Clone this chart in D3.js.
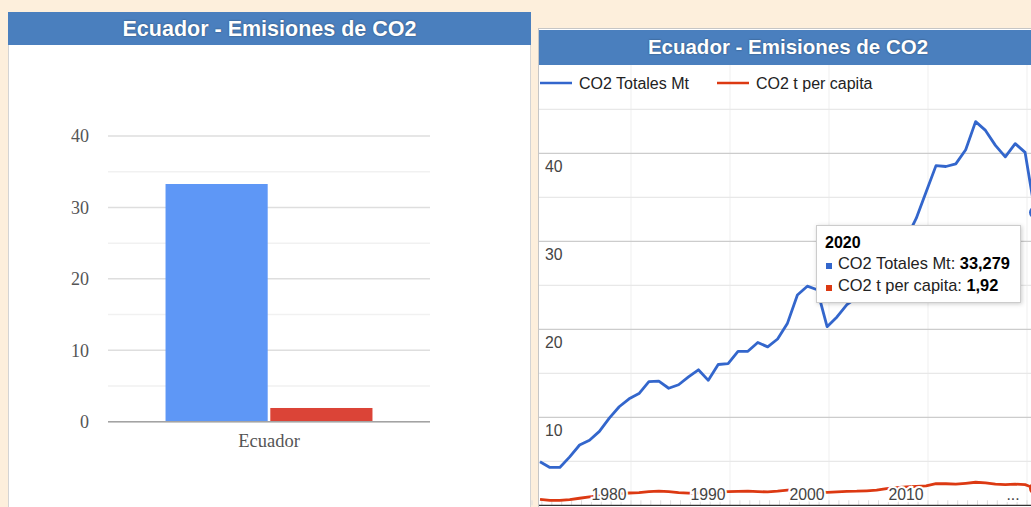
<!DOCTYPE html>
<html>
<head>
<meta charset="utf-8">
<script src="https://cdn.jsdelivr.net/npm/d3@7"></script>
<style>
body { margin: 0; background: #fdefdc; }
svg { display: block; font-family: "Liberation Sans", Arial, sans-serif; }
</style>
</head>
<body>
<svg id="chart" width="1031" height="507"></svg>
<script>
// data
var title = "Ecuador - Emisiones de CO2";
var seriesNames = ["CO2 Totales Mt", "CO2 t per capita"];
var seriesColors = ["#3366cc", "#dc3912"];
var barColors = ["#5e97f6", "#db4437"];
var country = "Ecuador";
var latest = [33.279, 1.92];
var barTicks = [0, 5, 10, 15, 20, 25, 30, 35, 40];

var years = [1970, 1971, 1972, 1973, 1974, 1975, 1976, 1977, 1978, 1979,
             1980, 1981, 1982, 1983, 1984, 1985, 1986, 1987, 1988, 1989,
             1990, 1991, 1992, 1993, 1994, 1995, 1996, 1997, 1998, 1999,
             2000, 2001, 2002, 2003, 2004, 2005, 2006, 2007, 2008, 2009,
             2010, 2011, 2012, 2013, 2014, 2015, 2016, 2017, 2018, 2019, 2020];
var totalMt = [4.95, 4.3, 4.3, 5.5, 6.85, 7.4, 8.4, 9.9, 11.2, 12.1,
               12.7, 14.05, 14.1, 13.3, 13.7, 14.6, 15.4, 14.2, 16.0, 16.1,
               17.5, 17.5, 18.5, 18.0, 18.9, 20.7, 23.9, 24.9, 24.5, 20.3,
               21.4, 22.8, 23.6, 24.6, 25.8, 27.4, 28.9, 30.3, 32.6, 35.6,
               38.6, 38.5, 38.8, 40.4, 43.6, 42.6, 40.9, 39.6, 41.1, 40.1, 33.279];
var perCapita = [0.68, 0.55, 0.55, 0.65, 0.8, 0.95, 1.1, 1.2, 1.3, 1.4,
                 1.45, 1.55, 1.62, 1.55, 1.45, 1.38, 1.42, 1.45, 1.5, 1.55,
                 1.58, 1.6, 1.55, 1.52, 1.6, 1.72, 1.72, 1.65, 1.55, 1.48,
                 1.52, 1.58, 1.6, 1.65, 1.72, 1.9, 2.0, 2.1, 2.15, 2.2,
                 2.45, 2.45, 2.4, 2.5, 2.62, 2.55, 2.4, 2.35, 2.4, 2.35, 1.92];
var lineTicks = [5, 10, 15, 20, 25, 30, 35, 40, 45];
var lineLabels = [10, 20, 30, 40];
var decadeLabels = [1980, 1990, 2000, 2010, 2020];
var tooltipYear = 2020;

var svg = d3.select("#chart");
var esLocale = d3.formatLocale({decimal: ",", thousands: ".", grouping: [3], currency: ["$", ""]});

// ---------- left panel: column chart ----------
svg.append("rect")
  .attr("x", 8.5).attr("y", 12.5)
  .attr("width", 522).attr("height", 500)
  .attr("fill", "#fff").attr("stroke", "#d4d4d4");
svg.append("rect")
  .attr("x", 8).attr("y", 12)
  .attr("width", 523).attr("height", 33)
  .attr("fill", "#4a7fbe");
svg.append("text")
  .attr("x", 269.5).attr("y", 36)
  .attr("text-anchor", "middle")
  .attr("font-size", "21.5px").attr("font-weight", "bold")
  .attr("fill", "#fff")
  .style("text-shadow", "0 0 2px rgba(0,0,0,0.45)")
  .text(title);

var yBar = d3.scaleLinear().domain([0, 40]).range([421.7, 136]);
var x0 = d3.scaleBand().domain([country]).range([108, 430]).paddingInner(0).paddingOuter(0.278);
var x1 = d3.scaleBand().domain(seriesNames).range([0, x0.bandwidth()]).paddingInner(0.025);

var left = svg.append("g");
left.selectAll(".grid")
  .data(barTicks)
  .enter().append("line")
  .attr("x1", 108).attr("x2", 430)
  .attr("y1", function(d) { return yBar(d); })
  .attr("y2", function(d) { return yBar(d); })
  .attr("stroke", function(d) { return d % 10 === 0 ? "#dedede" : "#f1f1f1"; })
  .attr("stroke-width", 1.5);

left.selectAll(".bar")
  .data(latest)
  .enter().append("rect")
  .attr("x", function(d, i) { return x0(country) + x1(seriesNames[i]); })
  .attr("width", x1.bandwidth())
  .attr("y", function(d) { return yBar(d); })
  .attr("height", function(d) { return yBar(0) - yBar(d); })
  .attr("fill", function(d, i) { return barColors[i]; });

left.append("line")
  .attr("x1", 108).attr("x2", 430)
  .attr("y1", yBar(0)).attr("y2", yBar(0))
  .attr("stroke", "#a3a3a3").attr("stroke-width", 1.6);

left.selectAll(".tick")
  .data(barTicks.filter(function(d) { return d % 10 === 0; }))
  .enter().append("text")
  .attr("x", 89)
  .attr("y", function(d) { return yBar(d); })
  .attr("dy", "0.35em")
  .attr("text-anchor", "end")
  .attr("font-family", "'Liberation Serif', 'Times New Roman', serif")
  .attr("font-size", "18px")
  .attr("fill", "#555")
  .text(function(d) { return d; });

left.append("text")
  .attr("x", x0(country) + x0.bandwidth() / 2)
  .attr("y", 447)
  .attr("text-anchor", "middle")
  .attr("font-family", "'Liberation Serif', 'Times New Roman', serif")
  .attr("font-size", "18.5px")
  .attr("fill", "#555")
  .text(country);

// ---------- right panel: line chart ----------
svg.append("rect")
  .attr("x", 538.5).attr("y", 28.5)
  .attr("width", 520).attr("height", 500)
  .attr("fill", "#fff").attr("stroke", "#c6c6c6");
svg.append("rect")
  .attr("x", 539).attr("y", 30)
  .attr("width", 520).attr("height", 35)
  .attr("fill", "#4a7fbe");
svg.append("text")
  .attr("x", 788).attr("y", 53.5)
  .attr("text-anchor", "middle")
  .attr("font-size", "20.5px").attr("font-weight", "bold")
  .attr("fill", "#fff")
  .style("text-shadow", "0 0 2px rgba(0,0,0,0.45)")
  .text(title);

var x = d3.scaleLinear().domain([1970, 2020]).range([540, 1035]);
var y = d3.scaleLinear().domain([0, 50]).range([505.3, 65.3]);
// the original draws its decade gridlines and labels a bit left of the year point
var gridShift = -8, labelShift = -30;

var right = svg.append("g");
svg.append("defs").append("clipPath").attr("id", "plot")
  .append("rect").attr("x", 539).attr("y", 65).attr("width", 520).attr("height", 442);

right.selectAll(".vgrid")
  .data(decadeLabels)
  .enter().append("line")
  .attr("x1", function(d) { return x(d) + gridShift; })
  .attr("x2", function(d) { return x(d) + gridShift; })
  .attr("y1", 65).attr("y2", y(0))
  .attr("stroke", "#efefef");

right.selectAll(".hgrid")
  .data(lineTicks)
  .enter().append("line")
  .attr("x1", 539).attr("x2", 1040)
  .attr("y1", function(d) { return y(d); })
  .attr("y2", function(d) { return y(d); })
  .attr("stroke", function(d) { return d % 10 === 0 ? "#cccccc" : "#e8e8e8"; })
  .attr("stroke-width", 1.2);

right.selectAll(".ytick")
  .data(years)
  .enter().append("line")
  .attr("x1", function(d) { return x(d) + gridShift; })
  .attr("x2", function(d) { return x(d) + gridShift; })
  .attr("y1", y(0) - 5).attr("y2", y(0))
  .attr("stroke", "#dddddd");

right.append("line")
  .attr("x1", 539).attr("x2", 1040)
  .attr("y1", y(0)).attr("y2", y(0))
  .attr("stroke", "#333").attr("stroke-width", 1.2);

right.selectAll(".ylabel")
  .data(lineLabels)
  .enter().append("text")
  .attr("x", 545)
  .attr("y", function(d) { return y(d) + 18.5; })
  .attr("font-size", "15.8px")
  .attr("fill", "#444")
  .text(function(d) { return d; });

var line = d3.line()
  .x(function(d, i) { return x(years[i]); })
  .y(function(d) { return y(d); });

var lines = right.append("g").attr("clip-path", "url(#plot)");
[totalMt, perCapita].forEach(function(s, k) {
  lines.append("path")
    .datum(s)
    .attr("d", line)
    .attr("fill", "none")
    .attr("stroke", seriesColors[k])
    .attr("stroke-width", 2.8)
    .attr("stroke-linejoin", "round");
});

// highlighted points for the tooltip year
var ti = years.indexOf(tooltipYear);
[totalMt, perCapita].forEach(function(s, k) {
  lines.append("circle")
    .attr("cx", x(tooltipYear)).attr("cy", y(s[ti]))
    .attr("r", 6)
    .attr("fill", seriesColors[k]);
});

right.selectAll(".xlabel")
  .data(decadeLabels)
  .enter().append("text")
  .attr("x", function(d) { return x(d) + labelShift + (d === 2020 ? 8 : 0); })
  .attr("y", 499.5)
  .attr("text-anchor", "middle")
  .attr("font-size", "15.8px")
  .attr("fill", "#444")
  .attr("stroke", "#fff").attr("stroke-width", 4)
  .attr("paint-order", "stroke")
  .text(function(d) { return d === 2020 ? "..." : d; });

// legend
var legendX = [540, 717];
seriesNames.forEach(function(name, k) {
  right.append("line")
    .attr("x1", legendX[k]).attr("x2", legendX[k] + 32)
    .attr("y1", 83).attr("y2", 83)
    .attr("stroke", seriesColors[k]).attr("stroke-width", 2.5);
  right.append("text")
    .attr("x", legendX[k] + 39).attr("y", 88.5)
    .attr("font-size", "16px")
    .attr("fill", "#222")
    .text(name);
});

// tooltip
var tip = svg.append("g").attr("transform", "translate(816,225)");
tip.append("rect")
  .attr("x", 0.5).attr("y", 0.5)
  .attr("width", 204).attr("height", 77)
  .attr("fill", "#fff").attr("stroke", "#cccccc")
  .style("filter", "drop-shadow(1px 1px 2px rgba(0,0,0,0.2))");
tip.append("text")
  .attr("x", 9).attr("y", 23)
  .attr("font-size", "16px").attr("font-weight", "bold")
  .attr("fill", "#000")
  .text(tooltipYear);
var tipValues = [esLocale.format(",.3f")(totalMt[ti]), esLocale.format(",.2f")(perCapita[ti])];
seriesNames.forEach(function(name, k) {
  tip.append("rect")
    .attr("x", 10).attr("y", 38 + k * 22)
    .attr("width", 6).attr("height", 6)
    .attr("fill", seriesColors[k]);
  var t = tip.append("text")
    .attr("x", 22).attr("y", 44 + k * 22)
    .attr("font-size", "16.4px")
    .attr("fill", "#222");
  t.append("tspan").text(name + ": ");
  t.append("tspan").attr("font-weight", "bold").attr("fill", "#000").text(tipValues[k]);
});
</script>
</body>
</html>
